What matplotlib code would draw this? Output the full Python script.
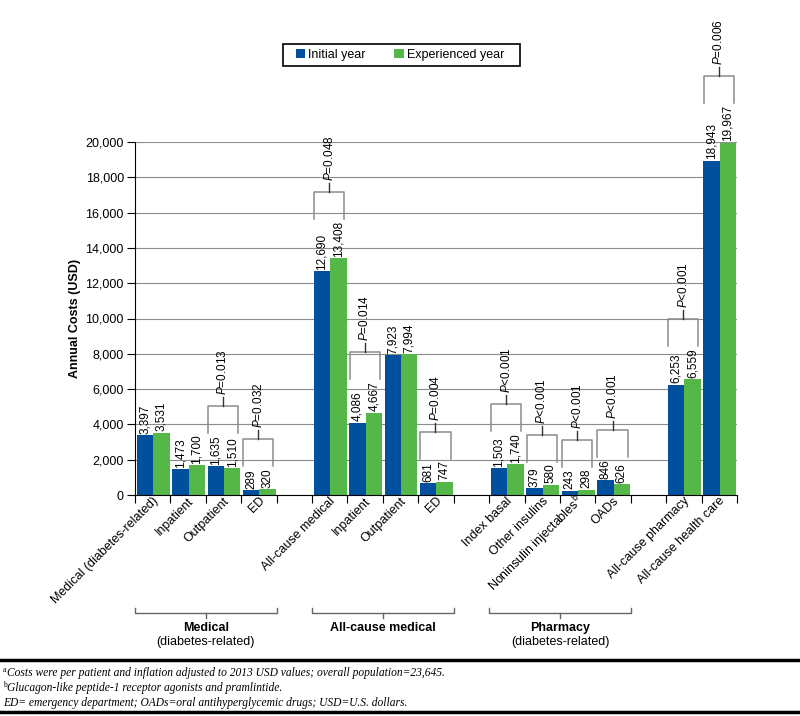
#! /usr/bin/env python3
# -*- coding: utf-8 -*-
"""
Annual costs, initial vs experienced year, grouped bars with P-value brackets.
"""

import numpy
import matplotlib
matplotlib.use("Agg")
from matplotlib import pyplot, ticker, transforms
from matplotlib.lines import Line2D
from matplotlib.patches import Rectangle

pyplot.rcParams['font.family'] = ['Liberation Sans', 'DejaVu Sans']
pyplot.rcParams['mathtext.fontset'] = 'custom'
pyplot.rcParams['mathtext.rm'] = 'Liberation Sans'
pyplot.rcParams['mathtext.it'] = 'Liberation Sans:italic'
pyplot.rcParams['mathtext.bf'] = 'Liberation Sans:bold'

CATEGORIES = ["Medical (diabetes-related)", "Inpatient", "Outpatient", "ED",
              "All-cause medical", "Inpatient", "Outpatient", "ED",
              "Index basal", "Other insulins",
              "Noninsulin injectables$^\\mathregular{b}$", "OADs",
              "All-cause pharmacy", "All-cause health care"]
SLOTS = [0, 1, 2, 3, 5, 6, 7, 8, 10, 11, 12, 13, 15, 16]
INITIAL = [3397, 1473, 1635, 289, 12690, 4086, 7923, 681,
           1503, 379, 243, 846, 6253, 18943]
EXPERIENCED = [3531, 1700, 1510, 320, 13408, 4667, 7994, 747,
               1740, 580, 298, 626, 6559, 19967]
P_VALUES = [None, None, "=0.013", "=0.032", "=0.048", "=0.014", None, "=0.004",
            "<0.001", "<0.001", "<0.001", "<0.001", "<0.001", "=0.006"]
GROUPS = [("Medical", "(diabetes-related)", 0, 3),
          ("All-cause medical", "", 5, 8),
          ("Pharmacy", "(diabetes-related)", 10, 13)]
FOOTNOTE_MARKS = ["a", "b", ""]
FOOTNOTES = ["Costs were per patient and inflation adjusted to 2013 USD values; overall population=23,645.",
             "Glucagon-like peptide-1 receptor agonists and pramlintide.",
             "ED= emergency department; OADs=oral antihyperglycemic drugs; USD=U.S. dollars."]

BLUE = "#00509e"
GREEN = "#55b748"
GRAY = "#8c8c8c"
W, H = 800, 716

fig = pyplot.figure(figsize=(W / 100, H / 100), dpi=100)
ax = fig.add_axes([135 / W, 221 / H, 602 / W, 353 / H])

x = numpy.array(SLOTS, dtype=float)
ax.bar(x - 0.22, INITIAL, width=0.465, color=BLUE, label="Initial year", zorder=2)
ax.bar(x + 0.245, EXPERIENCED, width=0.465, color=GREEN, label="Experienced year", zorder=2)

def value_label(xpos, value):
    return ax.annotate(f"{value:,}", (xpos, value), xytext=(0, 1),
                       textcoords='offset points', rotation=90, ha='center',
                       va='bottom', fontsize=8.5, annotation_clip=False)

labels_a = [value_label(xi - 0.22, v) for xi, v in zip(x, INITIAL)]
labels_b = [value_label(xi + 0.245, v) for xi, v in zip(x, EXPERIENCED)]

ax.set_xlim(-0.5, 16.5)
ax.set_ylim(0, 20000)
ax.set_yticks(numpy.arange(0, 20001, 2000))
ax.yaxis.set_major_formatter(ticker.StrMethodFormatter("{x:,.0f}"))
ax.yaxis.grid(True, color=GRAY, lw=0.8)
ax.set_axisbelow(True)
ax.tick_params(axis='y', length=6, width=0.8, labelsize=9, pad=2)
ax.set_ylabel("Annual Costs (USD)", fontsize=9, fontweight='bold', labelpad=3)

ax.set_xticks(numpy.arange(-0.5, 17, 1))
ax.set_xticklabels([])
ax.tick_params(axis='x', which='major', length=6, width=0.8)
# labels a little right of the slot centre, like the original
ax.set_xticks(x + 0.11, CATEGORIES, minor=True)
ax.tick_params(axis='x', which='minor', length=0, pad=3, labelsize=9)
for lab in ax.get_xticklabels(minor=True):
    lab.set_rotation(45)
    lab.set_ha('right')
    lab.set_va('center')
    lab.set_rotation_mode('anchor')

for side in ('top', 'right'):
    ax.spines[side].set_visible(False)
for side in ('left', 'bottom'):
    ax.spines[side].set_linewidth(0.8)

# brackets with p-values, stacked on top of the value labels (in pixels)
fig.canvas.draw()
renderer = fig.canvas.get_renderer()
blend = transforms.blended_transform_factory(ax.transData, transforms.IdentityTransform())
for xi, la, lb, p in zip(x, labels_a, labels_b, P_VALUES):
    if p is None:
        continue
    top = max(la.get_window_extent(renderer).y1, lb.get_window_extent(renderer).y1)
    bottom = top + 2
    bar_top = bottom + 27
    tick_top = bar_top + 9
    left, right, mid = xi - 0.44, xi + 0.41, xi - 0.015
    ax.plot([left, left, right, right], [bottom, bar_top, bar_top, bottom],
            transform=blend, color=GRAY, lw=1.1, clip_on=False)
    ax.plot([mid, mid], [bar_top, tick_top], transform=blend, color="#333333",
            lw=1, clip_on=False)
    ax.text(mid, tick_top + 2, f"$P${p}", transform=blend, rotation=90,
            ha='center', va='bottom', fontsize=8.5)

# group brackets below the tick labels
for name, sub, first, last in GROUPS:
    left, right = first - 0.5, last + 0.5
    mid = (left + right) / 2
    ax.plot([left, left, right, right], [H - 608, H - 613, H - 613, H - 608],
            transform=blend, color="#666666", lw=1, clip_on=False)
    ax.plot([mid, mid], [H - 613, H - 618], transform=blend, color="#666666",
            lw=1, clip_on=False)
    ax.text(mid, H - 628, name, transform=blend, ha='center', va='center',
            fontsize=9, fontweight='bold')
    if sub:
        ax.text(mid, H - 642, sub, transform=blend, ha='center', va='center',
                fontsize=9)

leg = ax.legend(loc='center', bbox_to_anchor=(400 / W, (H - 55) / H),
                bbox_transform=fig.transFigure, ncol=2, frameon=False,
                fontsize=9, handlelength=0.75, handleheight=0.75,
                handletextpad=0.25, columnspacing=2.3, borderpad=0.4,
                borderaxespad=0)
fig.add_artist(Rectangle((283, H - 66), 237, 22, transform=transforms.IdentityTransform(),
                         fill=False, edgecolor='black', lw=1.2))

# footnotes
for ypx in (660, 712):
    fig.add_artist(Line2D([0, 1], [(H - ypx) / H] * 2, transform=fig.transFigure,
                          color='black', lw=2.5))
for i, (mark, note) in enumerate(zip(FOOTNOTE_MARKS, FOOTNOTES)):
    ypos = (H - 673 - 15 * i) / H
    xpos = 3 / W
    if mark:
        fig.text(xpos, ypos + 3 / H, mark, family=['Liberation Serif'],
                 fontsize=5.5, va='center')
        xpos = 7 / W
    fig.text(xpos, ypos, note, family=['Liberation Serif'],
             style='italic', fontsize=8.3, va='center')

fig.savefig("out.png", dpi=100)
